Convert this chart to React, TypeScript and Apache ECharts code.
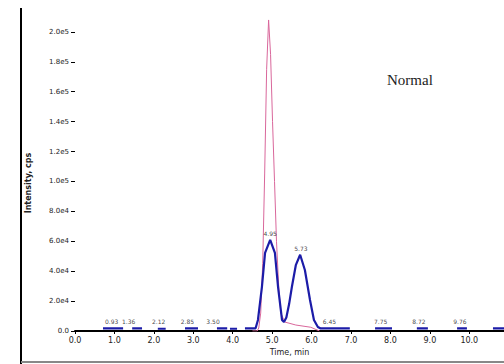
import React, { useEffect, useRef } from "react";
import * as echarts from "echarts";

// Time axis ticks (min) and intensity ticks (cps)
const xTicks = [0, 1, 2, 3, 4, 5, 6, 7, 8, 9, 10];
const yTickStep = 20000;

// Pink trace (sharp spike)
const pinkTimes = [4.5, 4.62, 4.66, 4.71, 4.76, 4.81, 4.86, 4.91, 4.96, 5.01, 5.06, 5.11, 5.17, 5.22, 5.32, 5.6, 5.98, 6.2];
const pinkValues = [0, 0, 2000, 12000, 45000, 105000, 175000, 208000, 185000, 140000, 100000, 60000, 28000, 12000, 6000, 4000, 2500, 0];

// Blue trace: baseline fragments and main peaks
const blueSegTimes = [
  [0.71, 1.0, 1.22],
  [1.45, 1.58, 1.7],
  [2.1, 2.2, 2.3],
  [2.79, 2.95, 3.12],
  [3.6, 3.73, 3.86],
  [3.93, 4.02, 4.11],
  [4.31, 4.58, 4.64, 4.74, 4.82, 4.95, 5.07, 5.15, 5.25, 5.3, 5.36, 5.43, 5.5, 5.6, 5.71, 5.83, 5.96, 6.06, 6.16, 6.22, 6.6, 6.97],
  [7.61, 7.8, 8.04],
  [8.67, 8.8, 8.95],
  [9.69, 9.8, 9.94],
  [10.6, 10.75, 10.88],
];
const blueSegValues = [
  [1800, 1800, 1800],
  [1800, 1800, 1800],
  [1500, 1500, 1500],
  [1800, 1800, 1800],
  [1800, 1800, 1800],
  [1500, 1500, 1500],
  [1800, 1800, 7400, 29400, 52200, 60900, 52200, 29400, 7400, 6000, 9000, 18000, 29400, 44000, 51000, 40800, 20700, 7400, 2700, 1800, 1800, 1800],
  [1800, 1800, 1800],
  [1800, 1800, 1800],
  [1800, 1800, 1800],
  [1800, 1800, 1800],
];

// Peak retention-time labels
const peakTimes = [0.93, 1.36, 2.12, 2.85, 3.5, 4.95, 5.73, 6.45, 7.75, 8.72, 9.76];
const peakValues = [2500, 2500, 2500, 2500, 2500, 60900, 51000, 2500, 2500, 2500, 2500];
const peakTexts = ["0.93", "1.36", "2.12", "2.85", "3.50", "4.95", "5.73", "6.45", "7.75", "8.72", "9.76"];

const xTitle = "Time, min";
const yTitle = "Intensity, cps";
const chartTitle = "Normal";

function fmtY(v: number): string {
  if (v === 0) return "0.0";
  const e = Math.floor(Math.log10(v) + 1e-9);
  const m = v / Math.pow(10, e);
  return m.toFixed(1) + "e" + e;
}

export default function App() {
  const ref = useRef<HTMLDivElement>(null);
  useEffect(() => {
    if (!ref.current) return;
    const chart = echarts.init(ref.current, null, { renderer: "svg" });

    const pinkData = pinkTimes.map((t, i) => [t, pinkValues[i]]);
    const blueData: any[] = [];
    blueSegTimes.forEach((seg, si) => {
      seg.forEach((t, i) => blueData.push([t, blueSegValues[si][i]]));
      if (si < blueSegTimes.length - 1) blueData.push([seg[seg.length - 1] + 0.001, "-"]);
    });
    const labelData = peakTimes.map((t, i) => ({ value: [t, peakValues[i]], name: peakTexts[i] }));

    chart.setOption({
      animation: false,
      backgroundColor: "#ffffff",
      grid: { left: 75, right: 0, top: 8, bottom: 33, containLabel: false },
      xAxis: {
        type: "value",
        min: 0,
        max: 10.88,
        interval: 1,
        name: xTitle,
        nameLocation: "middle",
        nameGap: 17,
        nameTextStyle: { fontSize: 8, color: "#222", fontFamily: "DejaVu Sans" },
        axisLine: { show: true, lineStyle: { color: "#000", width: 2 } },
        axisTick: { show: true, length: 3, lineStyle: { color: "#000" } },
        axisLabel: {
          showMaxLabel: false,
          fontSize: 8,
          color: "#222",
          margin: 5,
          fontFamily: "DejaVu Sans",
          formatter: (v: number) => (xTicks.includes(v) ? v.toFixed(1) : ""),
        },
        splitLine: { show: false },
      },
      yAxis: {
        type: "value",
        min: 0,
        max: 216000,
        interval: yTickStep,
        axisLine: { show: false },
        axisTick: { show: true, length: 4, lineStyle: { color: "#000" } },
        axisLabel: {
          showMaxLabel: false,
          fontSize: 7,
          color: "#222",
          margin: 6,
          fontFamily: "DejaVu Sans",
          formatter: (v: number) => fmtY(v),
        },
        splitLine: { show: false },
      },
      series: [
        {
          type: "line",
          data: pinkData,
          symbol: "none",
          lineStyle: { color: "#d9679b", width: 1 },
          z: 2,
        },
        {
          type: "line",
          data: blueData,
          symbol: "none",
          connectNulls: false,
          lineStyle: { color: "#1c1ca8", width: 2.2 },
          z: 3,
        },
        {
          type: "scatter",
          data: labelData,
          symbolSize: 0,
          itemStyle: { color: "#000" },
          z: 4,
          label: {
            show: true,
            position: "top",
            distance: 3,
            fontSize: 6,
            color: "#111",
            fontFamily: "DejaVu Sans",
            formatter: (p: any) => p.name,
          },
        },
      ],
      graphic: [
        { type: "line", shape: { x1: 21, y1: 8, x2: 21, y2: 364 }, style: { stroke: "#000", lineWidth: 2 } },
        { type: "line", shape: { x1: 21, y1: 362, x2: 504, y2: 362 }, style: { stroke: "#888", lineWidth: 2 } },
        {
          type: "text",
          x: 28,
          y: 183,
          rotation: Math.PI / 2,
          style: {
            text: yTitle,
            fontSize: 8,
            fontWeight: "bold",
            fill: "#222",
            fontFamily: "DejaVu Sans",
            align: "center",
            verticalAlign: "middle",
          },
        },
        {
          type: "text",
          x: 387,
          y: 80,
          style: {
            text: chartTitle,
            fontSize: 15,
            fill: "#222",
            fontFamily: "Liberation Serif",
            align: "left",
            verticalAlign: "middle",
          },
        },
      ],
    });
    return () => chart.dispose();
  }, []);
  return <div ref={ref} style={{ position: "fixed", left: 0, top: 0, width: 504, height: 364 }} />;
}
